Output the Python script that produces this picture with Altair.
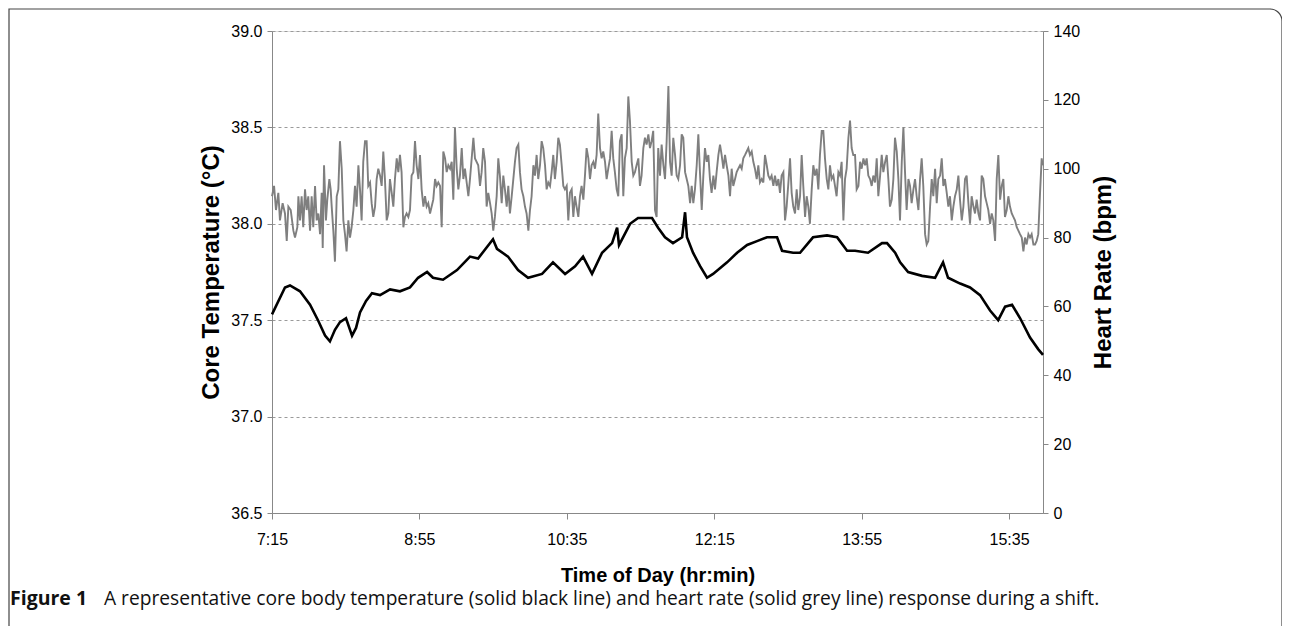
import altair as alt
import pandas as pd

# ---- data (minutes after 7:15, value) ----
hr_part1 = [(0.0,92),(1.4,95),(2.7,88),(4.3,93),(5.4,85),(7.2,90),(8.8,87),(10.0,79),(11.1,89),(12.7,88),
(14.5,82),(15.6,80),(17.2,83),(17.9,92),(19.0,85),(20.1,92),(21.2,83),(22.4,94),(23.5,88),(24.6,92),
(25.8,82),(26.9,92),(28.0,83),(29.2,95),(30.3,85),(31.4,87),(32.6,81),(33.7,93),(34.4,77),(35.3,101),
(36.6,85),(37.5,91),(38.9,97),(39.8,94),(40.5,89),(41.6,82),(42.7,73),(43.9,92),(45.0,94),(46.1,108),
(47.3,100),(48.4,85),(49.5,81),(50.6,76),(51.8,85),(52.9,80),(54.0,83),(55.2,88),(56.3,95),(57.4,89),
(58.6,101),(59.7,94),(60.8,85),(61.9,102),(63.1,108),(64.2,108),(65.3,95),(66.5,96),(67.6,90),(68.7,86),
(69.9,89),(71.0,97),(72.1,100),(73.3,98),(74.4,95),(75.5,105),(76.6,97),(77.8,85),(78.9,87),(80.0,97),
(81.2,93),(82.3,89),(83.4,97),(84.6,103),(85.7,99),(86.8,104),(87.9,99),(89.1,83),(90.2,86),(91.3,87),
(92.5,86),(93.6,88),(94.7,98),(95.9,99),(97.0,108),(98.1,101),(99.3,97),(100.4,104),(101.5,94),(102.7,89),
(103.8,92),(104.9,89),(106.0,90),(107.2,87),(108.3,89),(109.4,91),(110.6,97),(111.7,95),(112.8,96),(114.0,95),
(115.1,83),(116.2,105),(117.4,103),(118.5,99),(119.6,101),(120.8,100),(121.9,102),(123.0,91),(124.1,112),(125.3,100),
(126.4,94),(127.5,98),(128.7,106),(129.8,97)]

hr_part2 = [(130.9,100),(133.2,92),(134.3,97),(136.6,109),(137.7,103),(139.9,101),(141.1,95),(142.2,99),(143.3,106),(144.5,102),
(145.6,89),(146.7,93),(147.9,90),(149.0,87),(150.1,82),(151.2,86),(152.4,92),(153.5,103),(154.6,98),(155.8,90),
(156.9,98),(158.0,94),(159.2,89),(160.3,95),(161.4,87),(162.6,92),(163.7,97),(164.8,102),(165.9,106),(167.1,107),
(168.2,99),(169.3,94),(170.5,92),(171.6,89),(172.7,87),(173.9,82),(175.0,88),(176.1,92),(177.3,101),(178.4,98),
(179.5,104),(180.6,97),(181.8,101),(182.9,108),(184.0,106),(185.2,101),(186.3,94),(187.4,96),(188.6,95),(189.7,99),
(190.8,104),(191.9,97),(193.1,102),(194.2,109),(195.3,107),(196.5,101),(197.6,95),(198.7,94),(199.9,95),(201.0,85),
(202.1,93),(203.3,94),(204.4,86),(205.5,92),(206.6,89),(207.8,86),(208.9,92),(210.0,95),(211.2,91),(212.3,98),
(213.4,106),(214.6,103),(215.7,97),(216.8,101),(218.0,102),(219.1,100),(220.2,104),(221.3,116),(222.5,106),(223.6,103),
(224.7,105),(225.9,102),(227.0,97),(228.1,100),(229.3,103),(230.4,111),(231.5,103),(232.6,99),(233.8,94),(234.9,92),
(236.0,108),(237.2,110),(238.3,92),(239.4,103),(240.6,106),(241.7,121),(242.8,114),(244.0,102),(245.1,98),(246.2,99),
(247.3,101),(248.5,103),(249.6,95),(250.7,98),(251.9,106),(253.0,109),(254.1,107),(255.3,110),(256.4,106),(257.5,108),
(258.6,111),(259.8,88),(260.9,86),(262.0,106)]

hr_part3 = [(263.2,98),(264.3,107),(265.5,101),(266.6,97),(267.7,108),(268.9,124),(270.0,102),(271.1,98),(272.2,109),(273.4,104),
(274.5,98),(275.6,97),(276.8,101),(277.9,110),(279.0,109),(280.2,99),(281.3,97),(282.4,95),(283.6,90),(284.7,95),
(285.8,90),(286.9,94),(288.1,101),(289.2,110),(290.3,99),(291.5,88),(292.6,98),(293.7,106),(294.9,102),(296.0,104),
(297.1,97),(298.2,93),(299.4,98),(300.5,94),(301.6,99),(302.8,104),(303.9,107),(305.0,104),(306.2,100),(307.3,104),
(308.4,101),(309.6,98),(310.7,92),(311.8,100),(312.9,95),(314.1,97),(315.2,99),(316.3,100),(317.5,101),(318.6,100),
(319.7,103),(320.9,104),(322.0,105),(323.1,106),(324.2,104),(325.4,105),(326.5,102),(327.6,100),(328.8,97),(329.9,101),
(331.0,96),(332.2,97),(333.3,96),(334.4,104),(335.6,101),(336.7,98),(337.8,97),(338.9,98),(340.1,95),(341.2,98),
(342.3,95),(343.5,97),(344.6,93),(345.7,98),(346.9,99),(348.0,85),(349.1,89),(350.3,96),(351.4,103),(352.5,93),
(353.6,89),(354.8,87),(355.9,94),(357.0,88),(358.2,92),(359.3,104),(360.4,95),(361.6,86),(362.7,92),(363.8,89),
(364.9,84),(366.1,94),(367.2,101),(368.3,98),(369.5,100),(370.6,94),(371.7,104),(372.9,111),(374.0,111),(375.1,103),
(376.3,97),(377.4,94),(378.5,101),(379.6,97),(380.8,98),(381.9,95),(383.0,92),(384.2,99),(385.3,98),(386.4,102),
(387.6,85),(388.7,97),(389.8,100),(391.0,109),(392.1,114),(393.2,106),(394.3,104)]

hr_part4 = [(395.5,104),(396.6,94),(397.8,95),(398.9,102),(400.0,100),(401.2,103),(402.3,101),(403.4,103),(404.5,98),(405.7,97),
(406.8,95),(407.9,98),(409.1,96),(410.2,103),(411.3,92),(412.5,98),(413.6,104),(414.7,99),(415.9,102),(417.0,104),
(418.1,97),(419.2,89),(420.4,91),(421.5,97),(422.6,109),(423.8,105),(424.9,97),(426.0,85),(427.2,102),(428.3,112),
(429.4,99),(430.5,88),(431.7,97),(432.8,95),(433.9,90),(435.1,94),(436.2,97),(437.3,92),(438.5,88),(439.6,97),
(440.7,103),(441.8,95),(443.0,81),(444.1,78),(445.2,79),(446.4,89),(447.5,97),(448.6,92),(449.8,100),(450.9,90),
(452.0,97),(453.2,98),(454.3,103),(455.4,95),(456.5,97),(457.7,93),(458.8,89),(459.9,92),(461.1,85),(462.2,89),
(463.3,92),(464.5,94),(465.6,98),(466.7,91),(467.9,85),(469.0,89),(470.1,97),(471.2,98),(472.4,90),(473.5,84),
(474.6,92),(475.8,89),(476.9,87),(478.0,91),(479.2,87),(480.3,85),(481.4,98),(482.5,97),(483.7,92),(484.8,90),
(485.9,88),(487.1,84),(488.2,87),(489.3,85),(490.5,79),(491.6,97),(492.7,104),(493.9,91),(495.0,95),(496.1,97),
(497.2,86),(498.4,88),(499.5,92),(500.6,89),(501.8,87),(502.9,86),(504.0,85),(505.2,83),(506.3,82),(507.4,81),
(508.6,80),(509.7,76),(510.8,80),(511.9,78),(513.1,81),(514.2,80),(515.3,81),(516.5,78),(517.6,78),(518.7,79),
(519.8,81),(521.0,93),(522.1,103),(522.8,101)]

core_temp = [(0,37.53),(8.8,37.67),(12.2,37.68),(19.0,37.65),(25.8,37.58),(31.2,37.50),(36.0,37.42),(39.3,37.39),
(42.7,37.45),(46.1,37.49),(50.2,37.51),(54.3,37.42),(57.0,37.46),(59.7,37.54),(63.8,37.60),(67.8,37.64),(73.3,37.63),
(80.1,37.66),(86.8,37.65),(93.6,37.67),(99.1,37.72),(105.2,37.75),(109.2,37.72),(116.0,37.71),(125.5,37.76),(134.3,37.83),
(139.8,37.82),(149.9,37.92),(152.6,37.87),(160.1,37.83),(166.9,37.76),(173.7,37.72),(183.2,37.74),(190.6,37.80),
(198.8,37.74),(205.6,37.78),(211.0,37.83),(217.1,37.74),(223.9,37.85),(230.7,37.90),(234.1,37.98),(235.4,37.89),
(242.9,38.00),(248.3,38.03),(257.8,38.03),(261.9,37.98),(266.6,37.93),(272.0,37.90),(278.2,37.93),(280.2,38.06),
(281.5,37.93),(285.6,37.85),(290.4,37.78),(295.1,37.72),(299.2,37.74),(308.7,37.80),(315.5,37.85),(322.3,37.89),
(329.0,37.91),(335.8,37.93),(342.6,37.93),(346.0,37.86),(353.5,37.85),(358.2,37.85),(367.0,37.93),(376.5,37.94),
(383.3,37.93),(390.1,37.86),(395.5,37.86),(404.3,37.85),(413.8,37.90),(417.2,37.90),(422.7,37.85),(426.1,37.80),
(431.5,37.75),(441.0,37.73),(449.8,37.72),(455.2,37.80),(458.6,37.72),(466.8,37.69),(473.5,37.67),(480.3,37.63),
(487.1,37.55),(492.6,37.50),(497.3,37.57),(502.0,37.58),(507.5,37.51),(514.2,37.41),(519.7,37.35),(523.0,37.32)]

time_ticks = [0, 100, 200, 300, 400, 500]
time_labels = ["7:15", "8:55", "10:35", "12:15", "13:55", "15:35"]
temp_ticks = [36.5, 37.0, 37.5, 38.0, 38.5, 39.0]
hr_ticks = [0, 20, 40, 60, 80, 100, 120, 140]
caption_bold = "Figure 1"
caption_rest = "A representative core body temperature (solid black line) and heart rate (solid grey line) response during a shift."

# ---- frames ----
hr_rows = hr_part1 + hr_part2 + hr_part3 + hr_part4
hr_df = pd.DataFrame(hr_rows, columns=["t", "hr"])
hr_df["i"] = range(len(hr_df))
temp_df = pd.DataFrame(core_temp, columns=["t", "temp"])
temp_df["i"] = range(len(temp_df))

label_expr = " : ".join(
    f"datum.value == {v} ? '{l}'" for v, l in zip(time_ticks, time_labels)
) + " : ''"

W, H = 771, 482
FONT = "Liberation Sans"

x_enc = alt.X(
    "t:Q",
    scale=alt.Scale(domain=[0, 523], nice=False, zero=False),
    axis=alt.Axis(
        values=time_ticks, labelExpr=label_expr, title="Time of Day (hr:min)",
        grid=False, tickSize=6, labelPadding=12, titlePadding=18,
        labelFontSize=16, titleFontSize=20, labelFlush=False,
    ),
)

hr_line = alt.Chart(hr_df).mark_line(color="#7f7f7f", strokeWidth=1.9, interpolate="linear").encode(
    x=x_enc,
    y=alt.Y(
        "hr:Q",
        scale=alt.Scale(domain=[0, 140], nice=False, zero=True),
        axis=alt.Axis(
            orient="right", values=hr_ticks, title="Heart Rate (bpm)", grid=False,
            titleAngle=270, tickSize=5, labelPadding=5, titlePadding=36,
            labelFontSize=16, titleFontSize=24,
        ),
    ),
    order="i:Q",
)

temp_line = alt.Chart(temp_df).mark_line(color="#000000", strokeWidth=2.6, interpolate="linear").encode(
    x=x_enc,
    y=alt.Y(
        "temp:Q",
        scale=alt.Scale(domain=[36.5, 39.0], nice=False, zero=False),
        axis=alt.Axis(
            orient="left", values=temp_ticks, format=".1f", title="Core Temperature (°C)",
            grid=True, gridDash=[3, 3], gridColor="#9a9a9a", gridWidth=1,
            tickSize=5, labelPadding=5, titlePadding=7,
            labelFontSize=16, titleFontSize=24,
        ),
    ),
    order="i:Q",
)

frame = alt.Chart(alt.Data(values=[{}])).mark_rect(
    fill=None, stroke="#444444", strokeWidth=1.2, cornerRadiusTopRight=12
).encode(
    x=alt.value(-263), x2=alt.value(1010), y=alt.value(-22), y2=alt.value(640)
)

cap1 = alt.Chart(alt.Data(values=[{"s": caption_bold}])).mark_text(
    font="Open Sans", fontSize=19.5, fontWeight="bold", align="left", baseline="middle", color="#111"
).encode(x=alt.value(-262), y=alt.value(568), text="s:N")

cap2 = alt.Chart(alt.Data(values=[{"s": caption_rest}])).mark_text(
    font="Open Sans", fontSize=19.2, align="left", baseline="middle", color="#111"
).encode(x=alt.value(-168), y=alt.value(568), text="s:N")

chart = alt.layer(hr_line, temp_line, frame, cap1, cap2).resolve_scale(
    y="independent"
).properties(
    width=W, height=H,
    autosize=alt.AutoSizeParams(type="none"),
    padding={"left": 264, "top": 23, "right": 239, "bottom": 113},
).configure_view(stroke=None).configure_axis(
    labelFont=FONT, titleFont=FONT, labelColor="#333333", titleColor="#000000",
    domainColor="#333333", domainWidth=1.2, tickColor="#333333", titleFontWeight="bold",
).configure(background="white")

chart.save("out.html", embed_options={"renderer": "svg", "actions": False})
